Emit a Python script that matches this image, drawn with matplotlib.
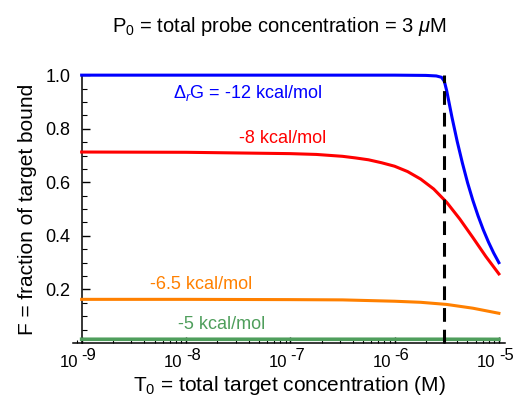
import matplotlib
matplotlib.use("Agg")
import matplotlib.pyplot as plt
import numpy as np

plt.rcParams['font.family'] = ['Liberation Sans', 'DejaVu Sans']
plt.rcParams['mathtext.fontset'] = 'custom'
plt.rcParams['mathtext.rm'] = 'Liberation Sans'
plt.rcParams['mathtext.it'] = 'Liberation Sans:italic'

# values (log10 of T0 in M, fraction bound)
logT_blue = [-9, -7, -6, -5.7, -5.6, -5.55, -5.523, -5.5, -5.45, -5.4, -5.35, -5.3,
             -5.25, -5.2, -5.15, -5.1, -5.05, -5.0]
F_blue = [1.0, 1.0, 1.0, 0.999, 0.997, 0.992, 0.977, 0.941, 0.843, 0.753, 0.672, 0.598,
          0.533, 0.475, 0.423, 0.377, 0.336, 0.300]

logT_red = [-9, -8, -7, -6.75, -6.5, -6.375, -6.25, -6.125, -6.0, -5.875, -5.75,
            -5.625, -5.5, -5.375, -5.25, -5.125, -5.0]
F_red = [0.713, 0.712, 0.707, 0.704, 0.697, 0.691, 0.684, 0.673, 0.660, 0.640, 0.612,
         0.575, 0.525, 0.463, 0.394, 0.323, 0.258]

logT_orange = [-9, -8, -7, -6.5, -6.0, -5.75, -5.5, -5.25, -5.0]
F_orange = [0.163, 0.163, 0.162, 0.161, 0.156, 0.152, 0.144, 0.130, 0.111]

logT_green = [-9, -7, -6, -5.5, -5.0]
F_green = [0.014, 0.014, 0.014, 0.014, 0.0137]

P0 = 3e-6
decades = [-9, -8, -7, -6, -5]

BLUE = "#0000ff"
RED = "#ff0000"
ORANGE = "#ff8000"
GREEN = "#4f9e5c"

fig = plt.figure(figsize=(5.13, 4.01), dpi=100)
ax = fig.add_axes([0.1423, 0.1446, 0.842, 0.668])

lw = 2.2
ax.plot(10.0 ** np.array(logT_green), F_green, color=GREEN, lw=2.6, clip_on=False, zorder=3)
ax.plot(10.0 ** np.array(logT_orange), F_orange, color=ORANGE, lw=lw, clip_on=False, zorder=3)
ax.plot(10.0 ** np.array(logT_red), F_red, color=RED, lw=lw, clip_on=False, zorder=3)
ax.plot(10.0 ** np.array(logT_blue), F_blue, color=BLUE, lw=lw, clip_on=False, zorder=3)

ax.plot([P0, P0], [0, 1.0], color="black", lw=2.2, dashes=(4.5, 2.6), zorder=4, clip_on=False)

ax.set_xscale("log")
ax.set_xlim(10 ** -9.083, 10 ** -4.942)
ax.set_ylim(0, 1.0)

ax.spines['top'].set_visible(False)
ax.spines['right'].set_visible(False)
ax.spines['left'].set_position(('data', 1e-9))
for s in ['left', 'bottom']:
    ax.spines[s].set_linewidth(1.1)

ax.set_yticks([0.2, 0.4, 0.6, 0.8, 1.0])
ax.set_yticklabels(["0.2", "0.4", "0.6", "0.8", "1.0"])
ax.set_yticks(np.arange(0.05, 1.0, 0.05), minor=True)
ax.tick_params(axis='y', which='major', direction='in', length=6, width=1, labelsize=13, pad=8)
ax.tick_params(axis='y', which='minor', direction='in', length=3.5, width=0.8)

ax.set_xticks([10.0 ** d for d in decades])
ax.xaxis.set_minor_locator(matplotlib.ticker.LogLocator(base=10, subs=np.arange(2, 10)))
ax.xaxis.set_minor_formatter(matplotlib.ticker.NullFormatter())
ax.set_xticklabels([])
ax.tick_params(axis='x', which='major', direction='in', length=4, width=1)
ax.tick_params(axis='x', which='minor', direction='in', length=2.5, width=0.8)

# Mathematica-like "10 -9" tick labels
for d in decades:
    ax.annotate("10", xy=(10.0 ** d, 0), xycoords=('data', 'axes fraction'),
                xytext=(-2.5, -17.5), textcoords='offset points',
                ha='right', va='baseline', fontsize=12)
    ax.annotate(str(d), xy=(10.0 ** d, 0), xycoords=('data', 'axes fraction'),
                xytext=(0, -12), textcoords='offset points',
                ha='left', va='baseline', fontsize=12)

ax.set_xlabel(r"T$_0$ = total target concentration (M)", fontsize=15, labelpad=19)
ax.set_ylabel("F = fraction of target bound", fontsize=15, labelpad=6)
fig.text(0.545, 0.92, r"P$_0$ = total probe concentration = 3 $\mathit{\mu}$M",
         ha='center', va='baseline', fontsize=14.5)

ax.text(10 ** -7.405, 0.913, r"$\Delta_r$G = -12 kcal/mol", color=BLUE, ha='center', va='baseline', fontsize=13)
ax.text(10 ** -7.074, 0.746, "-8 kcal/mol", color=RED, ha='center', va='baseline', fontsize=13)
ax.text(10 ** -7.85, 0.20, "-6.5 kcal/mol", color=ORANGE, ha='center', va='baseline', fontsize=13)
ax.text(10 ** -7.659, 0.051, "-5 kcal/mol", color=GREEN, ha='center', va='baseline', fontsize=13)

fig.savefig("out.png", dpi=100)
